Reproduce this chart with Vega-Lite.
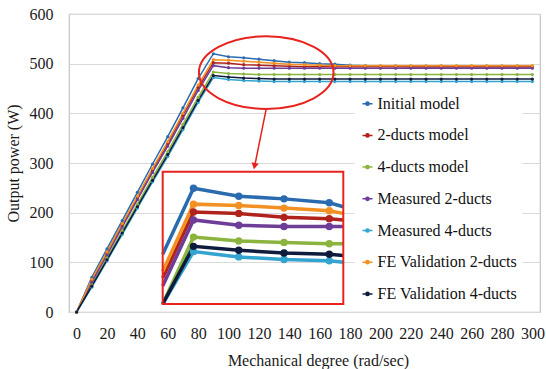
{
  "$schema": "https://vega.github.io/schema/vega-lite/v6.json",
  "width": 471,
  "height": 298,
  "autosize": {"type": "none"},
  "padding": {"left": 69, "top": 14, "right": 6, "bottom": 57},
  "background": "white",
  "config": {
    "font": "Liberation Serif",
    "view": {"stroke": "#c4c4c4", "strokeWidth": 1.2},
    "axis": {
      "labelFont": "Liberation Serif",
      "titleFont": "Liberation Serif",
      "labelFontSize": 16,
      "titleFontSize": 16,
      "titleFontWeight": "normal",
      "labelColor": "#1a1a1a",
      "titleColor": "#1a1a1a",
      "domain": false,
      "ticks": false,
      "labelOverlap": false
    },
    "axisX": {"labelOverlap": false, "labelFlush": false},
    "legend": {
      "orient": "none",
      "legendX": 285.5,
      "legendY": 76.7,
      "fillColor": "white",
      "padding": 5,
      "rowPadding": 15.7,
      "labelFont": "Liberation Serif",
      "labelFontSize": 16,
      "labelColor": "#111111",
      "labelOffset": 2,
      "labelLimit": 300,
      "symbolType": "M-1,0L1,0M0.32,0C0.32,0.18,0.18,0.32,0,0.32C-0.18,0.32,-0.32,0.18,-0.32,0C-0.32,-0.18,-0.18,-0.32,0,-0.32C0.18,-0.32,0.32,-0.18,0.32,0Z",
      "symbolSize": 100,
      "symbolStrokeWidth": 1.5
    }
  },
  "datasets": {
    "series": [
      {"series": "Initial model", "x": 0, "y": 0},
      {"series": "Initial model", "x": 10, "y": 70},
      {"series": "Initial model", "x": 20, "y": 127},
      {"series": "Initial model", "x": 30, "y": 184},
      {"series": "Initial model", "x": 40, "y": 241},
      {"series": "Initial model", "x": 50, "y": 298},
      {"series": "Initial model", "x": 60, "y": 353},
      {"series": "Initial model", "x": 70, "y": 411},
      {"series": "Initial model", "x": 80, "y": 470},
      {"series": "Initial model", "x": 90, "y": 520},
      {"series": "Initial model", "x": 100, "y": 514},
      {"series": "Initial model", "x": 110, "y": 512},
      {"series": "Initial model", "x": 120, "y": 509},
      {"series": "Initial model", "x": 130, "y": 506},
      {"series": "Initial model", "x": 140, "y": 503},
      {"series": "Initial model", "x": 150, "y": 502},
      {"series": "Initial model", "x": 160, "y": 500},
      {"series": "Initial model", "x": 170, "y": 499},
      {"series": "Initial model", "x": 180, "y": 497},
      {"series": "Initial model", "x": 190, "y": 496},
      {"series": "Initial model", "x": 200, "y": 495},
      {"series": "Initial model", "x": 210, "y": 495},
      {"series": "Initial model", "x": 220, "y": 494},
      {"series": "Initial model", "x": 230, "y": 494},
      {"series": "Initial model", "x": 240, "y": 494},
      {"series": "Initial model", "x": 250, "y": 494},
      {"series": "Initial model", "x": 260, "y": 494},
      {"series": "Initial model", "x": 270, "y": 494},
      {"series": "Initial model", "x": 280, "y": 494},
      {"series": "Initial model", "x": 290, "y": 494},
      {"series": "Initial model", "x": 300, "y": 494},
      {"series": "2-ducts model", "x": 0, "y": 0},
      {"series": "2-ducts model", "x": 10, "y": 64},
      {"series": "2-ducts model", "x": 20, "y": 119},
      {"series": "2-ducts model", "x": 30, "y": 175},
      {"series": "2-ducts model", "x": 40, "y": 230},
      {"series": "2-ducts model", "x": 50, "y": 286},
      {"series": "2-ducts model", "x": 60, "y": 339},
      {"series": "2-ducts model", "x": 70, "y": 396},
      {"series": "2-ducts model", "x": 80, "y": 452},
      {"series": "2-ducts model", "x": 90, "y": 502},
      {"series": "2-ducts model", "x": 100, "y": 501},
      {"series": "2-ducts model", "x": 110, "y": 498},
      {"series": "2-ducts model", "x": 120, "y": 497},
      {"series": "2-ducts model", "x": 130, "y": 496},
      {"series": "2-ducts model", "x": 140, "y": 495},
      {"series": "2-ducts model", "x": 150, "y": 494},
      {"series": "2-ducts model", "x": 160, "y": 494},
      {"series": "2-ducts model", "x": 170, "y": 494},
      {"series": "2-ducts model", "x": 180, "y": 494},
      {"series": "2-ducts model", "x": 190, "y": 494},
      {"series": "2-ducts model", "x": 200, "y": 494},
      {"series": "2-ducts model", "x": 210, "y": 494},
      {"series": "2-ducts model", "x": 220, "y": 494},
      {"series": "2-ducts model", "x": 230, "y": 494},
      {"series": "2-ducts model", "x": 240, "y": 494},
      {"series": "2-ducts model", "x": 250, "y": 494},
      {"series": "2-ducts model", "x": 260, "y": 494},
      {"series": "2-ducts model", "x": 270, "y": 494},
      {"series": "2-ducts model", "x": 280, "y": 494},
      {"series": "2-ducts model", "x": 290, "y": 494},
      {"series": "2-ducts model", "x": 300, "y": 494},
      {"series": "4-ducts model", "x": 0, "y": 0},
      {"series": "4-ducts model", "x": 10, "y": 55},
      {"series": "4-ducts model", "x": 20, "y": 109},
      {"series": "4-ducts model", "x": 30, "y": 163},
      {"series": "4-ducts model", "x": 40, "y": 217},
      {"series": "4-ducts model", "x": 50, "y": 271},
      {"series": "4-ducts model", "x": 60, "y": 323},
      {"series": "4-ducts model", "x": 70, "y": 378},
      {"series": "4-ducts model", "x": 80, "y": 432},
      {"series": "4-ducts model", "x": 90, "y": 483},
      {"series": "4-ducts model", "x": 100, "y": 480},
      {"series": "4-ducts model", "x": 110, "y": 479},
      {"series": "4-ducts model", "x": 120, "y": 478},
      {"series": "4-ducts model", "x": 130, "y": 478},
      {"series": "4-ducts model", "x": 140, "y": 478},
      {"series": "4-ducts model", "x": 150, "y": 478},
      {"series": "4-ducts model", "x": 160, "y": 478},
      {"series": "4-ducts model", "x": 170, "y": 478},
      {"series": "4-ducts model", "x": 180, "y": 478},
      {"series": "4-ducts model", "x": 190, "y": 478},
      {"series": "4-ducts model", "x": 200, "y": 478},
      {"series": "4-ducts model", "x": 210, "y": 478},
      {"series": "4-ducts model", "x": 220, "y": 478},
      {"series": "4-ducts model", "x": 230, "y": 478},
      {"series": "4-ducts model", "x": 240, "y": 478},
      {"series": "4-ducts model", "x": 250, "y": 478},
      {"series": "4-ducts model", "x": 260, "y": 478},
      {"series": "4-ducts model", "x": 270, "y": 478},
      {"series": "4-ducts model", "x": 280, "y": 478},
      {"series": "4-ducts model", "x": 290, "y": 478},
      {"series": "4-ducts model", "x": 300, "y": 478},
      {"series": "Measured 2-ducts", "x": 0, "y": 0},
      {"series": "Measured 2-ducts", "x": 10, "y": 60},
      {"series": "Measured 2-ducts", "x": 20, "y": 115},
      {"series": "Measured 2-ducts", "x": 30, "y": 171},
      {"series": "Measured 2-ducts", "x": 40, "y": 226},
      {"series": "Measured 2-ducts", "x": 50, "y": 281},
      {"series": "Measured 2-ducts", "x": 60, "y": 334},
      {"series": "Measured 2-ducts", "x": 70, "y": 390},
      {"series": "Measured 2-ducts", "x": 80, "y": 446},
      {"series": "Measured 2-ducts", "x": 90, "y": 496},
      {"series": "Measured 2-ducts", "x": 100, "y": 492},
      {"series": "Measured 2-ducts", "x": 110, "y": 491},
      {"series": "Measured 2-ducts", "x": 120, "y": 491},
      {"series": "Measured 2-ducts", "x": 130, "y": 491},
      {"series": "Measured 2-ducts", "x": 140, "y": 491},
      {"series": "Measured 2-ducts", "x": 150, "y": 491},
      {"series": "Measured 2-ducts", "x": 160, "y": 491},
      {"series": "Measured 2-ducts", "x": 170, "y": 491},
      {"series": "Measured 2-ducts", "x": 180, "y": 491},
      {"series": "Measured 2-ducts", "x": 190, "y": 491},
      {"series": "Measured 2-ducts", "x": 200, "y": 491},
      {"series": "Measured 2-ducts", "x": 210, "y": 491},
      {"series": "Measured 2-ducts", "x": 220, "y": 491},
      {"series": "Measured 2-ducts", "x": 230, "y": 491},
      {"series": "Measured 2-ducts", "x": 240, "y": 491},
      {"series": "Measured 2-ducts", "x": 250, "y": 491},
      {"series": "Measured 2-ducts", "x": 260, "y": 491},
      {"series": "Measured 2-ducts", "x": 270, "y": 491},
      {"series": "Measured 2-ducts", "x": 280, "y": 491},
      {"series": "Measured 2-ducts", "x": 290, "y": 491},
      {"series": "Measured 2-ducts", "x": 300, "y": 491},
      {"series": "Measured 4-ducts", "x": 0, "y": 0},
      {"series": "Measured 4-ducts", "x": 10, "y": 50},
      {"series": "Measured 4-ducts", "x": 20, "y": 103},
      {"series": "Measured 4-ducts", "x": 30, "y": 156},
      {"series": "Measured 4-ducts", "x": 40, "y": 209},
      {"series": "Measured 4-ducts", "x": 50, "y": 262},
      {"series": "Measured 4-ducts", "x": 60, "y": 313},
      {"series": "Measured 4-ducts", "x": 70, "y": 367},
      {"series": "Measured 4-ducts", "x": 80, "y": 422},
      {"series": "Measured 4-ducts", "x": 90, "y": 472},
      {"series": "Measured 4-ducts", "x": 100, "y": 468},
      {"series": "Measured 4-ducts", "x": 110, "y": 466},
      {"series": "Measured 4-ducts", "x": 120, "y": 465},
      {"series": "Measured 4-ducts", "x": 130, "y": 464},
      {"series": "Measured 4-ducts", "x": 140, "y": 464},
      {"series": "Measured 4-ducts", "x": 150, "y": 464},
      {"series": "Measured 4-ducts", "x": 160, "y": 464},
      {"series": "Measured 4-ducts", "x": 170, "y": 464},
      {"series": "Measured 4-ducts", "x": 180, "y": 464},
      {"series": "Measured 4-ducts", "x": 190, "y": 464},
      {"series": "Measured 4-ducts", "x": 200, "y": 464},
      {"series": "Measured 4-ducts", "x": 210, "y": 464},
      {"series": "Measured 4-ducts", "x": 220, "y": 464},
      {"series": "Measured 4-ducts", "x": 230, "y": 464},
      {"series": "Measured 4-ducts", "x": 240, "y": 464},
      {"series": "Measured 4-ducts", "x": 250, "y": 464},
      {"series": "Measured 4-ducts", "x": 260, "y": 464},
      {"series": "Measured 4-ducts", "x": 270, "y": 464},
      {"series": "Measured 4-ducts", "x": 280, "y": 464},
      {"series": "Measured 4-ducts", "x": 290, "y": 464},
      {"series": "Measured 4-ducts", "x": 300, "y": 464},
      {"series": "FE Validation 2-ducts", "x": 0, "y": 0},
      {"series": "FE Validation 2-ducts", "x": 10, "y": 66},
      {"series": "FE Validation 2-ducts", "x": 20, "y": 121},
      {"series": "FE Validation 2-ducts", "x": 30, "y": 178},
      {"series": "FE Validation 2-ducts", "x": 40, "y": 233},
      {"series": "FE Validation 2-ducts", "x": 50, "y": 289},
      {"series": "FE Validation 2-ducts", "x": 60, "y": 343},
      {"series": "FE Validation 2-ducts", "x": 70, "y": 400},
      {"series": "FE Validation 2-ducts", "x": 80, "y": 457},
      {"series": "FE Validation 2-ducts", "x": 90, "y": 508},
      {"series": "FE Validation 2-ducts", "x": 100, "y": 507},
      {"series": "FE Validation 2-ducts", "x": 110, "y": 505},
      {"series": "FE Validation 2-ducts", "x": 120, "y": 503},
      {"series": "FE Validation 2-ducts", "x": 130, "y": 501},
      {"series": "FE Validation 2-ducts", "x": 140, "y": 499},
      {"series": "FE Validation 2-ducts", "x": 150, "y": 498},
      {"series": "FE Validation 2-ducts", "x": 160, "y": 497},
      {"series": "FE Validation 2-ducts", "x": 170, "y": 496},
      {"series": "FE Validation 2-ducts", "x": 180, "y": 496},
      {"series": "FE Validation 2-ducts", "x": 190, "y": 496},
      {"series": "FE Validation 2-ducts", "x": 200, "y": 496},
      {"series": "FE Validation 2-ducts", "x": 210, "y": 496},
      {"series": "FE Validation 2-ducts", "x": 220, "y": 496},
      {"series": "FE Validation 2-ducts", "x": 230, "y": 496},
      {"series": "FE Validation 2-ducts", "x": 240, "y": 496},
      {"series": "FE Validation 2-ducts", "x": 250, "y": 496},
      {"series": "FE Validation 2-ducts", "x": 260, "y": 496},
      {"series": "FE Validation 2-ducts", "x": 270, "y": 496},
      {"series": "FE Validation 2-ducts", "x": 280, "y": 496},
      {"series": "FE Validation 2-ducts", "x": 290, "y": 496},
      {"series": "FE Validation 2-ducts", "x": 300, "y": 496},
      {"series": "FE Validation 4-ducts", "x": 0, "y": 0},
      {"series": "FE Validation 4-ducts", "x": 10, "y": 52},
      {"series": "FE Validation 4-ducts", "x": 20, "y": 105},
      {"series": "FE Validation 4-ducts", "x": 30, "y": 159},
      {"series": "FE Validation 4-ducts", "x": 40, "y": 212},
      {"series": "FE Validation 4-ducts", "x": 50, "y": 265},
      {"series": "FE Validation 4-ducts", "x": 60, "y": 317},
      {"series": "FE Validation 4-ducts", "x": 70, "y": 371},
      {"series": "FE Validation 4-ducts", "x": 80, "y": 426},
      {"series": "FE Validation 4-ducts", "x": 90, "y": 476},
      {"series": "FE Validation 4-ducts", "x": 100, "y": 473},
      {"series": "FE Validation 4-ducts", "x": 110, "y": 471},
      {"series": "FE Validation 4-ducts", "x": 120, "y": 470},
      {"series": "FE Validation 4-ducts", "x": 130, "y": 469},
      {"series": "FE Validation 4-ducts", "x": 140, "y": 469},
      {"series": "FE Validation 4-ducts", "x": 150, "y": 469},
      {"series": "FE Validation 4-ducts", "x": 160, "y": 469},
      {"series": "FE Validation 4-ducts", "x": 170, "y": 469},
      {"series": "FE Validation 4-ducts", "x": 180, "y": 469},
      {"series": "FE Validation 4-ducts", "x": 190, "y": 469},
      {"series": "FE Validation 4-ducts", "x": 200, "y": 469},
      {"series": "FE Validation 4-ducts", "x": 210, "y": 469},
      {"series": "FE Validation 4-ducts", "x": 220, "y": 469},
      {"series": "FE Validation 4-ducts", "x": 230, "y": 469},
      {"series": "FE Validation 4-ducts", "x": 240, "y": 469},
      {"series": "FE Validation 4-ducts", "x": 250, "y": 469},
      {"series": "FE Validation 4-ducts", "x": 260, "y": 469},
      {"series": "FE Validation 4-ducts", "x": 270, "y": 469},
      {"series": "FE Validation 4-ducts", "x": 280, "y": 469},
      {"series": "FE Validation 4-ducts", "x": 290, "y": 469},
      {"series": "FE Validation 4-ducts", "x": 300, "y": 469}
    ],
    "ellipse": [{"x": 124.8, "y": 482}],
    "arrow": [{"x": 124.8, "y": 409, "xe": 117.2, "ye": 294}],
    "head": [{"x": 117.1, "y": 293.5}],
    "box": [{"x": 83.2, "xe": 123.1, "y": 432.3, "ye": 532.6}]
  },
  "layer": [
    {
      "layer": [
        {
          "data": {"name": "series"},
          "mark": {"type": "line", "strokeWidth": 1.5},
          "encoding": {
            "x": {"field": "x", "type": "quantitative",
                  "scale": {"domain": [-5, 305], "nice": false, "zero": false},
                  "axis": {"title": "Mechanical degree (rad/sec)", "values": [0, 20, 40, 60, 80, 100, 120, 140, 160, 180, 200, 220, 240, 260, 280, 300], "grid": false, "labelPadding": 13, "titlePadding": 11, "titleX": 249, "labelFlush": false, "labelOverlap": false}},
            "y": {"field": "y", "type": "quantitative",
                  "scale": {"domain": [0, 600], "nice": false},
                  "axis": {"title": "Output power (W)", "values": [0, 100, 200, 300, 400, 500, 600], "grid": true, "gridColor": "#d9d9d9", "labelPadding": 16, "titlePadding": 8, "labelOverlap": false}},
            "color": {"field": "series", "type": "nominal",
                      "scale": {"domain": ["Initial model", "2-ducts model", "4-ducts model", "Measured 2-ducts", "Measured 4-ducts", "FE Validation 2-ducts", "FE Validation 4-ducts"],
                                "range": ["#2A6BB0", "#B0231C", "#8BB43F", "#6E3D97", "#33A4CF", "#F39022", "#0E1B3D"]},
                      "legend": {"title": null, "encode": {"symbols": {"update": {"fill": {"scale": "color", "field": "value"}, "stroke": {"scale": "color", "field": "value"}}}}}}
          }
        },
        {
          "data": {"name": "series"},
          "mark": {"type": "point", "filled": true, "size": 10, "opacity": 1},
          "encoding": {
            "x": {"field": "x", "type": "quantitative",
                  "axis": {"title": "Mechanical degree (rad/sec)", "values": [0, 20, 40, 60, 80, 100, 120, 140, 160, 180, 200, 220, 240, 260, 280, 300], "grid": false, "labelPadding": 13, "titlePadding": 11, "titleX": 249, "labelFlush": false, "labelOverlap": false}},
            "y": {"field": "y", "type": "quantitative",
                  "axis": {"title": "Output power (W)", "values": [0, 100, 200, 300, 400, 500, 600], "grid": true, "gridColor": "#d9d9d9", "labelPadding": 16, "titlePadding": 8, "labelOverlap": false}},
            "color": {"field": "series", "type": "nominal", "legend": null}
          }
        },
        {
          "data": {"name": "ellipse"},
          "mark": {"type": "point", "shape": "M1.854,0C1.854,0.552,1.024,1,0,1C-1.024,1,-1.854,0.552,-1.854,0C-1.854,-0.552,-1.024,-1,0,-1C1.024,-1,1.854,-0.552,1.854,0Z", "size": 5271, "filled": false, "color": "#E8231E", "strokeWidth": 2, "opacity": 1},
          "encoding": {
            "x": {"field": "x", "type": "quantitative",
                  "axis": {"title": "Mechanical degree (rad/sec)", "values": [0, 20, 40, 60, 80, 100, 120, 140, 160, 180, 200, 220, 240, 260, 280, 300], "grid": false, "labelPadding": 13, "titlePadding": 11, "titleX": 249, "labelFlush": false, "labelOverlap": false}},
            "y": {"field": "y", "type": "quantitative",
                  "axis": {"title": "Output power (W)", "values": [0, 100, 200, 300, 400, 500, 600], "grid": true, "gridColor": "#d9d9d9", "labelPadding": 16, "titlePadding": 8, "labelOverlap": false}}
          }
        },
        {
          "data": {"name": "arrow"},
          "mark": {"type": "rule", "color": "#E8231E", "strokeWidth": 1.5},
          "encoding": {
            "x": {"field": "x", "type": "quantitative",
                  "axis": {"title": "Mechanical degree (rad/sec)", "values": [0, 20, 40, 60, 80, 100, 120, 140, 160, 180, 200, 220, 240, 260, 280, 300], "grid": false, "labelPadding": 13, "titlePadding": 11, "titleX": 249, "labelFlush": false, "labelOverlap": false}},
            "y": {"field": "y", "type": "quantitative",
                  "axis": {"title": "Output power (W)", "values": [0, 100, 200, 300, 400, 500, 600], "grid": true, "gridColor": "#d9d9d9", "labelPadding": 16, "titlePadding": 8, "labelOverlap": false}},
            "x2": {"field": "xe"},
            "y2": {"field": "ye"}
          }
        },
        {
          "data": {"name": "head"},
          "mark": {"type": "point", "shape": "triangle-down", "size": 55, "filled": true, "color": "#E8231E", "angle": 12, "opacity": 1},
          "encoding": {
            "x": {"field": "x", "type": "quantitative",
                  "axis": {"title": "Mechanical degree (rad/sec)", "values": [0, 20, 40, 60, 80, 100, 120, 140, 160, 180, 200, 220, 240, 260, 280, 300], "grid": false, "labelPadding": 13, "titlePadding": 11, "titleX": 249, "labelFlush": false, "labelOverlap": false}},
            "y": {"field": "y", "type": "quantitative",
                  "axis": {"title": "Output power (W)", "values": [0, 100, 200, 300, 400, 500, 600], "grid": true, "gridColor": "#d9d9d9", "labelPadding": 16, "titlePadding": 8, "labelOverlap": false}}
          }
        }
      ]
    },
    {
      "layer": [
        {
          "data": {"name": "series"},
          "transform": [{"filter": "datum.x >= 80 && datum.x <= 130"}],
          "mark": {"type": "line", "strokeWidth": 3.5},
          "encoding": {
            "x": {"field": "x", "type": "quantitative", "axis": null,
                  "scale": {"domain": [83.2, 123.1], "range": [93.7, 274.3], "clamp": true, "nice": false, "zero": false}},
            "y": {"field": "y", "type": "quantitative", "axis": null,
                  "scale": {"domain": [432.3, 532.6], "range": [290, 157.7], "clamp": true, "nice": false, "zero": false}},
            "color": {"field": "series", "type": "nominal", "legend": null}
          }
        },
        {
          "data": {"name": "series"},
          "transform": [{"filter": "datum.x >= 90 && datum.x <= 120"}],
          "mark": {"type": "point", "filled": true, "size": 55, "opacity": 1},
          "encoding": {
            "x": {"field": "x", "type": "quantitative", "axis": null},
            "y": {"field": "y", "type": "quantitative", "axis": null},
            "color": {"field": "series", "type": "nominal", "legend": null}
          }
        },
        {
          "data": {"name": "box"},
          "mark": {"type": "rect", "fill": null, "fillOpacity": 0, "stroke": "#E8231E", "strokeWidth": 2},
          "encoding": {
            "x": {"field": "x", "type": "quantitative", "axis": null},
            "x2": {"field": "xe"},
            "y": {"field": "y", "type": "quantitative", "axis": null},
            "y2": {"field": "ye"}
          }
        }
      ]
    }
  ],
  "resolve": {"scale": {"x": "independent", "y": "independent"}}
}
